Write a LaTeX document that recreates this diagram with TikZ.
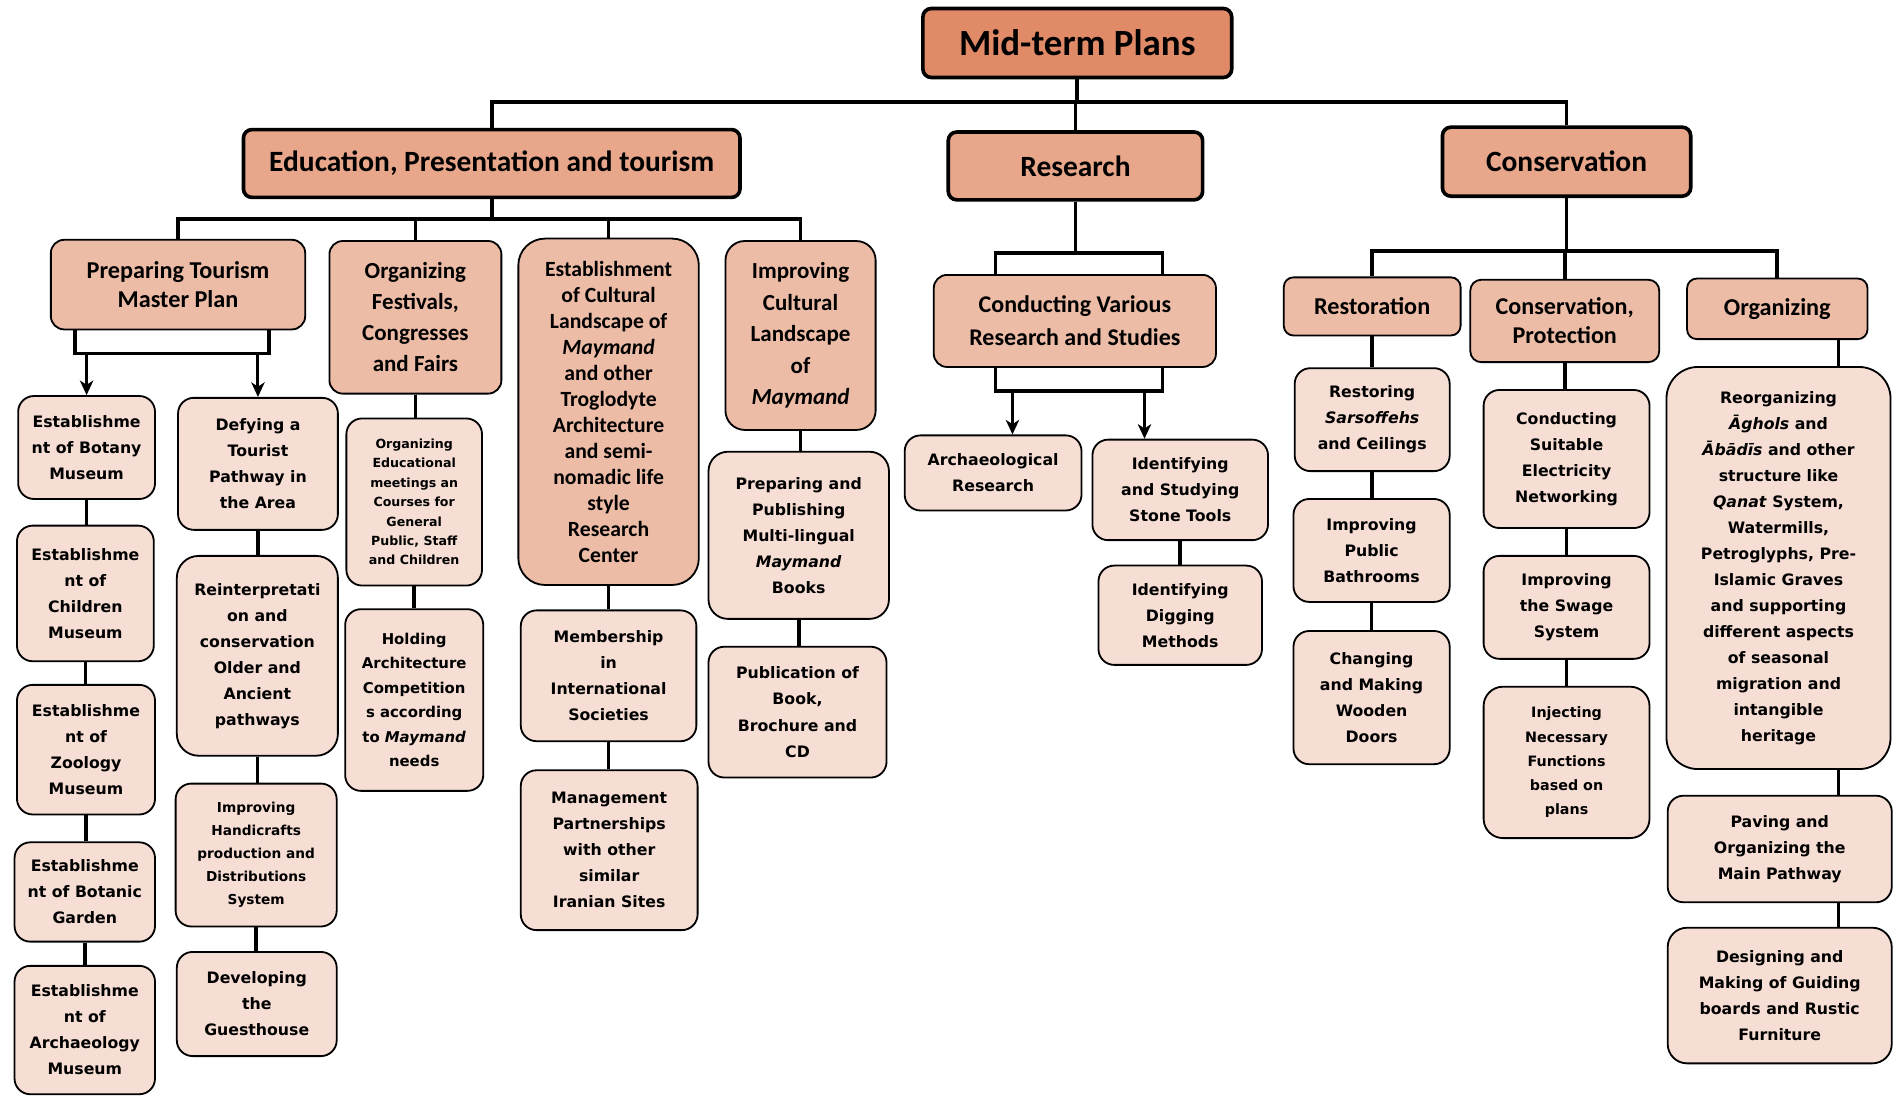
\documentclass[tikz,border=0pt]{standalone}
\usepackage{fontspec}
\setmainfont{Carlito}
\newfontfamily\leaffont{DejaVu Sans}
\usetikzlibrary{arrows.meta}

\definecolor{rootfill}{RGB}{225,138,104}
\definecolor{topfill}{RGB}{232,166,138}
\definecolor{midfill}{RGB}{237,188,167}
\definecolor{leaffill}{RGB}{247,222,212}

\tikzset{
  wh/.style 2 args={minimum width=#1pt, minimum height=#2pt},
  rootbox/.style={draw, line width=3pt, fill=rootfill, rounded corners=7pt,
    inner sep=0pt, align=center, font=\bfseries\fontsize{30.5}{34}\selectfont},
  topbox/.style={draw, line width=3pt, fill=topfill, rounded corners=7pt,
    inner sep=0pt, align=center, font=\bfseries\fontsize{24.3}{28}\selectfont},
  midbox/.style={draw, line width=1.5pt, fill=midfill, rounded corners=11pt,
    inner sep=0pt, align=center, font=\bfseries\fontsize{20}{25.5}\selectfont},
  leafbox/.style={draw, line width=1.5pt, fill=leaffill, rounded corners=13pt,
    inner sep=0pt, align=center, font=\leaffont\bfseries\fontsize{13}{21.5}\selectfont},
  link/.style={line width=3pt},
  arrowlink/.style={line width=2.5pt, -{Stealth[length=12pt,width=11pt,inset=3.5pt]}},
}

\begin{document}
\begin{tikzpicture}[x=1pt,y=-1pt]
\useasboundingbox (0,0) rectangle (1568,905);

% ---------- root and first level ----------
\node[rootbox, wh={255}{57}] (root) at (889.5,35.5) {Mid-term Plans};
\node[topbox, wh={410}{56}] (edu) at (406,135) {Education, Presentation and tourism};
\node[topbox, wh={210}{56}] (res) at (888,137) {Research};
\node[topbox, wh={205}{57}] (cons) at (1293.5,133.5) {Conservation};

% ---------- education branch ----------
\node[midbox, wh={210}{74}, font=\bfseries\fontsize{20}{24}\selectfont] (prep) at (147,235) {Preparing Tourism\\Master Plan};
\node[midbox, wh={142}{126}, font=\bfseries\fontsize{19}{25.7}\selectfont] (fest) at (343,262) {Organizing\\Festivals,\\Congresses\\and Fairs};
\node[midbox, wh={149}{286}, rounded corners=22pt, font=\bfseries\fontsize{17.9}{21.5}\selectfont] (estab) at (502.5,340)
  {Establishment\\of Cultural\\Landscape of\\\textit{Maymand}\\and other\\Troglodyte\\Architecture\\and semi-\\nomadic life\\style\\Research\\Center};
\node[midbox, wh={124}{156}, rounded corners=16pt, font=\bfseries\fontsize{19}{26}\selectfont] (impr) at (661,277) {Improving\\Cultural\\Landscape\\of\\\textit{Maymand}};

% first column under the master plan
\node[leafbox, wh={113}{85}] (botany) at (71.5,369.5) {Establishme\\nt of Botany\\Museum};
\node[leafbox, wh={113}{112}] (children) at (70.5,490) {Establishme\\nt of\\Children\\Museum};
\node[leafbox, wh={114}{107}] (zoology) at (71,619) {Establishme\\nt of\\Zoology\\Museum};
\node[leafbox, wh={116}{82}] (botanic) at (70,736.5) {Establishme\\nt of Botanic\\Garden};
\node[leafbox, wh={116}{106}] (archmus) at (70,850.5) {Establishme\\nt of\\Archaeology\\Museum};

% second column under the master plan
\node[leafbox, wh={132}{109}] (defy) at (213,383) {Defying a\\Tourist\\Pathway in\\the Area};
\node[leafbox, wh={133}{165}, rounded corners=18pt] (reint) at (212.5,541.5) {Reinterpretati\\on and\\conservation\\Older and\\Ancient\\pathways};
\node[leafbox, wh={133}{118}, font=\leaffont\bfseries\fontsize{11.3}{19}\selectfont] (handi) at (211.5,706) {Improving\\Handicrafts\\production and\\Distributions\\System};
\node[leafbox, wh={132}{86}] (guest) at (212,829) {Developing\\the\\Guesthouse};

% under festivals
\node[leafbox, wh={112}{138}, font=\leaffont\bfseries\fontsize{10.4}{16}\selectfont] (educmeet) at (342,414.5) {Organizing\\Educational\\meetings an\\Courses for\\General\\Public, Staff\\and Children};
\node[leafbox, wh={114}{150}, font=\leaffont\bfseries\fontsize{12.3}{20.2}\selectfont] (holding) at (342,578) {Holding\\Architecture\\Competition\\s according\\to \textit{Maymand}\\needs};

% under the research center
\node[leafbox, wh={145}{108}] (member) at (502.5,558) {Membership\\in\\International\\Societies};
\node[leafbox, wh={146}{132}] (manage) at (503,702) {Management\\Partnerships\\with other\\similar\\Iranian Sites};

% under improving the landscape
\node[leafbox, wh={149}{138}, rounded corners=16pt] (publish) at (659.5,442) {Preparing and\\Publishing\\Multi-lingual\\\textit{Maymand}\\Books};
\node[leafbox, wh={147}{108}] (pubbook) at (658.5,588) {Publication of\\Book,\\Brochure and\\CD};

% ---------- research branch ----------
\node[midbox, wh={233}{76}, font=\bfseries\fontsize{19.8}{27}\selectfont] (conduct) at (887.5,265) {Conducting Various\\Research and Studies};
\node[leafbox, wh={146}{62}] (archres) at (820,390.5) {Archaeological\\Research};
\node[leafbox, wh={145}{83}] (stone) at (974.5,404.5) {Identifying\\and Studying\\Stone Tools};
\node[leafbox, wh={135}{82}] (digging) at (974.5,508) {Identifying\\Digging\\Methods};

% ---------- conservation branch ----------
\node[midbox, wh={146}{48}, rounded corners=8pt] (restor) at (1133,253) {Restoration};
\node[midbox, wh={156}{68}, rounded corners=9pt, font=\bfseries\fontsize{19.9}{24}\selectfont] (consprot) at (1292,265) {Conservation,\\Protection};
\node[midbox, wh={149}{50}, rounded corners=8pt] (organ) at (1467.5,255) {Organizing};

\node[leafbox, wh={128}{85}] (sars) at (1133,346.5) {Restoring\\\textit{Sarsoffehs}\\and Ceilings};
\node[leafbox, wh={129}{85}] (bath) at (1132.5,454.5) {Improving\\Public\\Bathrooms};
\node[leafbox, wh={129}{110}] (doors) at (1132.5,576) {Changing\\and Making\\Wooden\\Doors};

\node[leafbox, wh={137}{114}] (elec) at (1293.5,379) {Conducting\\Suitable\\Electricity\\Networking};
\node[leafbox, wh={137}{85}] (swage) at (1293.5,501.5) {Improving\\the Swage\\System};
\node[leafbox, wh={137}{125}, rounded corners=16pt, font=\leaffont\bfseries\fontsize{11.8}{20}\selectfont] (inject) at (1293.5,629.5) {Injecting\\Necessary\\Functions\\based on\\plans};

\node[leafbox, wh={185}{332}, rounded corners=26pt] (reorg) at (1468.5,469)
  {Reorganizing\\\textit{Āghols} and\\\textit{Ābādīs} and other\\structure like\\\textit{Qanat} System,\\Watermills,\\Petroglyphs, Pre-\\Islamic Graves\\and supporting\\different aspects\\of seasonal\\migration and\\intangible\\heritage};
\node[leafbox, wh={185}{88}] (paving) at (1469.5,701) {Paving and\\Organizing the\\Main Pathway};
\node[leafbox, wh={185}{112}, rounded corners=16pt] (design) at (1469.5,822) {Designing and\\Making of Guiding\\boards and Rustic\\Furniture};

% ---------- bus bars ----------
\coordinate (busA) at (889,84);
\coordinate (busB) at (404,181);
\coordinate (prepL) at (62,292);
\coordinate (prepR) at (222,292);
\coordinate (busC) at (889,209);
\coordinate (resL) at (822,209);
\coordinate (resR) at (960,209);
\coordinate (resL2) at (822,323);
\coordinate (resR2) at (960,323);
\coordinate (arrA) at (836,323);
\coordinate (arrB) at (945,323);
\coordinate (busD) at (1293,207);
\coordinate (orgX) at (1518,0);

% root to first level
\draw[link] (root.south) -- (root.south |- busA);
\draw[link] (edu.north) -- (edu.north |- busA) -| (cons.north);
\draw[link] (res.north) -- (res.north |- busA);

% education to its four programmes
\draw[link] (edu.south) -- (edu.south |- busB);
\draw[link] (prep.north) -- (prep.north |- busB) -| (impr.north);
\draw[link] (fest.north) -- (fest.north |- busB);
\draw[link] (estab.north) -- (estab.north |- busB);

% master plan bracket and arrows
\draw[link] (prep.south -| prepL) -- (prepL) -- (prepR) -- (prep.south -| prepR);
\draw[arrowlink] (botany.north |- prepL) -- (botany.north);
\draw[arrowlink] (defy.north |- prepL) -- (defy.north);

% vertical chains
\draw[link] (botany.south) -- (botany.south |- children.north);
\draw[link] (children.south) -- (children.south |- zoology.north);
\draw[link] (zoology.south) -- (zoology.south |- botanic.north);
\draw[link] (botanic.south) -- (botanic.south |- archmus.north);
\draw[link] (defy.south) -- (defy.south |- reint.north);
\draw[link] (reint.south) -- (reint.south |- handi.north);
\draw[link] (handi.south) -- (handi.south |- guest.north);
\draw[link] (fest.south) -- (fest.south |- educmeet.north);
\draw[link] (educmeet.south) -- (educmeet.south |- holding.north);
\draw[link] (estab.south) -- (estab.south |- member.north);
\draw[link] (member.south) -- (member.south |- manage.north);
\draw[link] (impr.south) -- (impr.south |- publish.north);
\draw[link] (publish.south) -- (publish.south |- pubbook.north);

% research branch
\draw[link] (res.south) -- (res.south |- busC);
\draw[link] (conduct.north -| resL) -- (resL) -- (resR) -- (conduct.north -| resR);
\draw[link] (conduct.south -| resL2) -- (resL2) -- (resR2) -- (conduct.south -| resR2);
\draw[arrowlink] (arrA) -- (arrA |- archres.north);
\draw[arrowlink] (arrB) -- (arrB |- stone.north);
\draw[link] (stone.south) -- (stone.south |- digging.north);

% conservation branch
\draw[link] (cons.south) -- (cons.south |- busD);
\draw[link] (restor.north) -- (restor.north |- busD) -| (organ.north);
\draw[link] (consprot.north) -- (consprot.north |- busD);
\draw[link] (restor.south) -- (restor.south |- sars.north);
\draw[link] (sars.south) -- (sars.south |- bath.north);
\draw[link] (bath.south) -- (bath.south |- doors.north);
\draw[link] (consprot.south) -- (consprot.south |- elec.north);
\draw[link] (elec.south) -- (elec.south |- swage.north);
\draw[link] (swage.south) -- (swage.south |- inject.north);
\draw[link] (organ.south -| orgX) -- (reorg.north -| orgX);
\draw[link] (reorg.south -| orgX) -- (paving.north -| orgX);
\draw[link] (paving.south -| orgX) -- (design.north -| orgX);
\end{tikzpicture}
\end{document}
